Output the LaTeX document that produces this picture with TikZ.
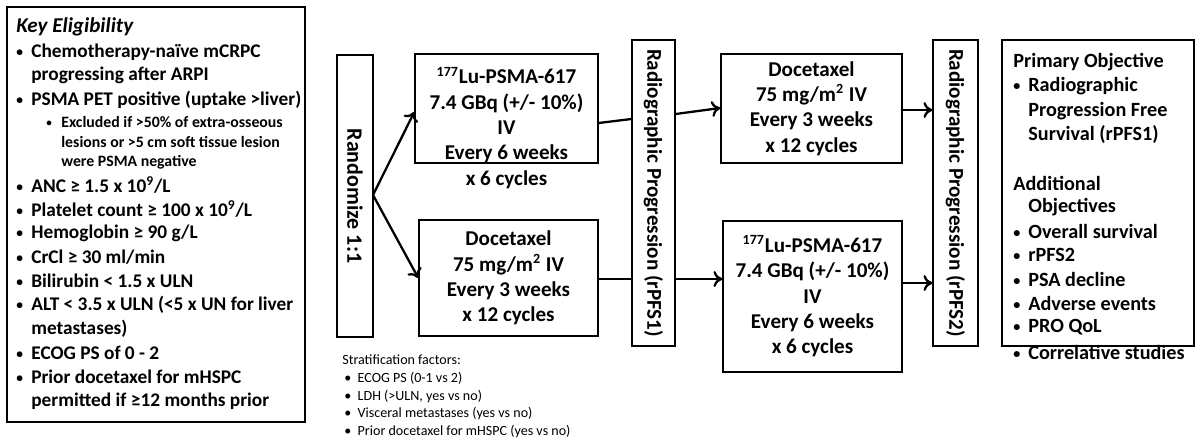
\documentclass[tikz,border=0pt]{standalone}
\usepackage{fontspec}
\setmainfont{Carlito}
\usepackage{tikz}
\usetikzlibrary{arrows.meta}

\newcommand{\bl}{\makebox[0.3cm][l]{\raisebox{0.1ex}{\scalebox{0.7}{\textbullet}}}}
\begin{document}
\begin{tikzpicture}[x=0.02cm,y=-0.02cm,
    every node/.style={font=\bfseries\fontsize{11}{13.4}\selectfont},
    arm/.style={font=\bfseries\fontsize{12}{14.4}\selectfont},
    box/.style={draw,thick,inner sep=0pt},
    txt/.style={anchor=west,inner sep=0pt},
    obj/.style={anchor=west,inner sep=0pt,font=\bfseries\fontsize{11.5}{14}\selectfont},
    small/.style={anchor=west,inner sep=0pt,font=\bfseries\fontsize{9}{11}\selectfont},
    strat/.style={anchor=west,inner sep=0pt,font=\fontsize{8}{10}\selectfont},
    arr/.style={->,line width=1.3pt,>={To[length=5pt,width=9pt]}}]
\useasboundingbox (0,0) rectangle (1200,441);

% left panel
\draw[thick] (7,7) rectangle (305,422);
\node[txt,font=\bfseries\itshape\fontsize{12}{14}\selectfont] at (16,27) {Key Eligibility};
\node[txt] at (16,52) {\bl Chemotherapy-na\"ive mCRPC};
\node[txt] at (31,75) {progressing after ARPI};
\node[txt] at (16,100) {\bl PSMA PET positive (uptake >liver)};
\node[small] at (46,122) {\bl Excluded if >50\% of extra-osseous};
\node[small] at (61,142) {lesions or >5 cm soft tissue lesion};
\node[small] at (61,162) {were PSMA negative};
\node[txt] at (16,185) {\bl ANC ≥ 1.5 x 10\textsuperscript{9}/L};
\node[txt] at (16,209) {\bl Platelet count ≥ 100 x 10\textsuperscript{9}/L};
\node[txt] at (16,233) {\bl Hemoglobin ≥ 90 g/L};
\node[txt] at (16,257) {\bl CrCl ≥ 30 ml/min};
\node[txt] at (16,281) {\bl Bilirubin < 1.5 x ULN};
\node[txt] at (16,305) {\bl ALT < 3.5 x ULN (<5 x UN for liver};
\node[txt] at (31,329) {metastases)};
\node[txt] at (16,353) {\bl ECOG PS of 0 - 2};
\node[txt] at (16,377) {\bl Prior docetaxel for mHSPC};
\node[txt] at (31,401) {permitted if ≥12 months prior};

% randomization and arms
\node[box,minimum width=36*0.02cm,minimum height=282*0.02cm] (rand) at (355,196) {};
\node[rotate=-90,font=\bfseries\fontsize{12.5}{14}\selectfont] at (rand) {Randomize 1:1};
\node[box,minimum width=183*0.02cm,minimum height=109*0.02cm] (luA) at (506.5,108.5) {};
\node[arm,align=center,anchor=north] at (506.5,61) {\textsuperscript{177}Lu-PSMA-617\\7.4 GBq (+/- 10\%)\\IV\\Every 6 weeks\\x 6 cycles};
\node[box,arm,minimum width=179*0.02cm,minimum height=116*0.02cm,align=center] (docA) at (508.5,278) {Docetaxel\\75 mg/m\textsuperscript{2} IV\\Every 3 weeks\\x 12 cycles};
\coordinate (split) at (373,195);
\draw[arr] (split) -- (luA.west |- 0,112);
\draw[arr] (split) -- (docA.west |- 0,278);

% first progression
\node[box,minimum width=43*0.02cm,minimum height=306*0.02cm] (pfsA) at (653.5,193) {};
\node[rotate=-90,arm] at (pfsA) {Radiographic Progression (rPFS1)};
\draw[line width=1.3pt] (luA.east |- 0,123) -- (pfsA.west |- 0,119);
\draw[line width=1.3pt] (docA.east |- 0,279) -- (pfsA.west |- 0,279);

% crossover arms
\node[box,arm,minimum width=181*0.02cm,minimum height=109*0.02cm,align=center] (docB) at (811.5,108.5) {Docetaxel\\75 mg/m\textsuperscript{2} IV\\Every 3 weeks\\x 12 cycles};
\node[box,arm,minimum width=179*0.02cm,minimum height=151*0.02cm,align=center] (luB) at (812.5,296.5) {\textsuperscript{177}Lu-PSMA-617\\7.4 GBq (+/- 10\%)\\IV\\Every 6 weeks\\x 6 cycles};
\draw[arr] (pfsA.east |- 0,114) -- (docB.west |- 0,108);
\draw[arr] (pfsA.east |- 0,279) -- (luB.west |- 0,279);

% second progression
\node[box,minimum width=45*0.02cm,minimum height=306*0.02cm] (pfsB) at (955.5,193) {};
\node[rotate=-90,arm] at (pfsB) {Radiographic Progression (rPFS2)};
\draw[arr] (docB.east |- 0,110) -- (pfsB.west |- 0,110);
\draw[arr] (luB.east |- 0,283) -- (pfsB.west |- 0,283);

% objectives
\draw[thick] (1002,40) rectangle (1194,346);
\node[obj] at (1013,62) {Primary Objective};
\node[obj] at (1013,86) {\bl Radiographic};
\node[obj] at (1028,111) {Progression Free};
\node[obj] at (1028,135) {Survival (rPFS1)};
\node[obj] at (1013,183) {Additional};
\node[obj] at (1028,207) {Objectives};
\node[obj] at (1013,231) {\bl Overall survival};
\node[obj] at (1013,255) {\bl rPFS2};
\node[obj] at (1013,279) {\bl PSA decline};
\node[obj] at (1013,303) {\bl Adverse events};
\node[obj] at (1013,327) {\bl PRO QoL};
\node[obj] at (1013,352) {\bl Correlative studies};

% stratification
\node[strat] at (342,360) {Stratification factors:};
\node[strat] at (344,378) {\textbullet\ \ ECOG PS (0-1 vs 2)};
\node[strat] at (344,396) {\textbullet\ \ LDH (>ULN, yes vs no)};
\node[strat] at (344,413) {\textbullet\ \ Visceral metastases (yes vs no)};
\node[strat] at (344,431) {\textbullet\ \ Prior docetaxel for mHSPC (yes vs no)};
\end{tikzpicture}
\end{document}
